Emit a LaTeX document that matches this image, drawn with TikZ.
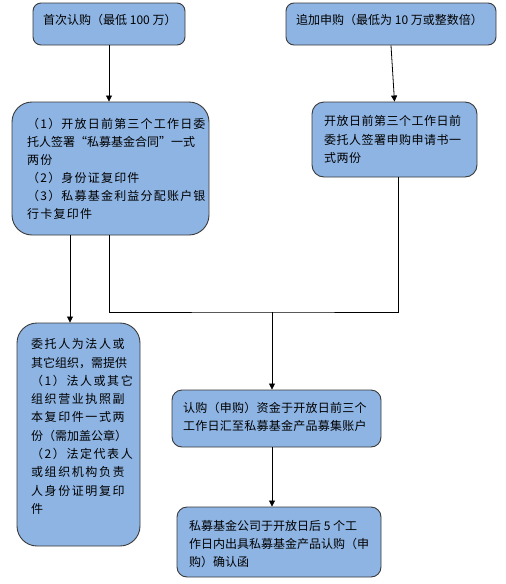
\documentclass[tikz,border=0pt]{standalone}
\usepackage{fontspec}
\usetikzlibrary{arrows.meta}
\newfontfamily\cjka{Noto Sans CJK SC}
\newfontfamily\cjke{Noto Sans CJK SC}[LetterSpace=2]
\newfontfamily\cjkb{Noto Sans CJK SC}[LetterSpace=4]
\newfontfamily\cjkc{Noto Sans CJK SC}[LetterSpace=10]
\newfontfamily\cjkd{Noto Sans CJK SC}[LetterSpace=13]
\definecolor{boxblue}{HTML}{8EB4E3}
\definecolor{boxline}{HTML}{3A3A3A}
\tikzset{
  box/.style={draw=boxline, line width=0.9pt, fill=boxblue, inner sep=0pt},
  txt/.style={anchor=north west, inner sep=0pt, align=left},
  conn/.style={line width=0.8pt, draw=black},
  arr/.style={conn, -{Triangle[length=6pt,width=6pt]}}
}
\begin{document}
\begin{tikzpicture}[x=1pt,y=-1pt]
\useasboundingbox[fill=white] (0,0) rectangle (506,584);
% boxes
\node[box, rounded corners=8pt, minimum width=152pt, minimum height=42pt] (b1) at (109,24) {};
\node[box, rounded corners=8pt, minimum width=210pt, minimum height=42pt] (b2) at (391,24) {};
\node[box, rounded corners=20pt, minimum width=197pt, minimum height=133pt] (b3) at (110.5,168.5) {};
\node[box, rounded corners=12pt, minimum width=165pt, minimum height=75pt] (b4) at (394.5,139.5) {};
\node[box, rounded corners=20pt, minimum width=123pt, minimum height=223pt] (b5) at (78.5,434.5) {};
\node[box, rounded corners=10pt, minimum width=209pt, minimum height=57pt] (b6) at (276.5,418.5) {};
\node[box, rounded corners=10pt, minimum width=204pt, minimum height=70pt] (b7) at (279,542) {};
% texts
\node[txt, font=\fontsize{12}{18}\selectfont\cjka] (t1) at (43,14.5) {首次认购（最低 100 万）};
\node[txt, font=\fontsize{12}{18}\selectfont\cjka] (t2) at (296,14.5) {追加申购（最低为 10 万或整数倍）};
\node[txt, font=\fontsize{12}{18}\selectfont\cjkc] (t3) at (27,118.5) {（1）开放日前第三个工作日委\\{\cjka 托人签署“私募基金合同”一式}\\两份\\（2）身份证复印件\\（3）私募基金利益分配账户银\\行卡复印件};
\node[txt, font=\fontsize{12}{18.5}\selectfont\cjkb] (t4) at (324,115.5) {开放日前第三个工作日前\\委托人签署申购申请书一\\式两份};
\node[txt, font=\fontsize{12}{18.3}\selectfont\cjkd] (t5) at (31,338.5) {委托人为法人或\\{\cjka 其它组织，需提供}\\（1）法人或其它\\组织营业执照副\\本复印件一式两\\{\cjka 份（需加盖公章）}\\（2）法定代表人\\或组织机构负责\\人身份证明复印\\件};
\node[txt, font=\fontsize{12}{18}\selectfont\cjke] (t6) at (183,402.5) {认购（申购）资金于开放日前三个\\工作日汇至私募基金产品募集账户};
\node[txt, font=\fontsize{12}{18}\selectfont\cjka] (t7) at (189,520.5) {私募基金公司于开放日后 5 个工\\作日内出具私募基金产品认购（申\\购）确认函};
% helper coordinates
\coordinate (c70) at (70,0);
\coordinate (c109) at (109,0);
\coordinate (c398) at (398,0);
\coordinate (j) at (272,312);
% connectors
\draw[arr] (b1.south) -- (b1.south |- b3.north);
\draw[arr] (b2.south) -- (b4.north);
\draw[arr] (b3.south -| c70) -- (b5.north -| c70);
\draw[conn] (b3.south -| c109) |- (j) -| (b4.south -| c398);
\draw[arr] (j) -- (b6.north -| j);
\draw[arr] (b6.south -| j) -- (b7.north -| j);
\end{tikzpicture}
\end{document}
